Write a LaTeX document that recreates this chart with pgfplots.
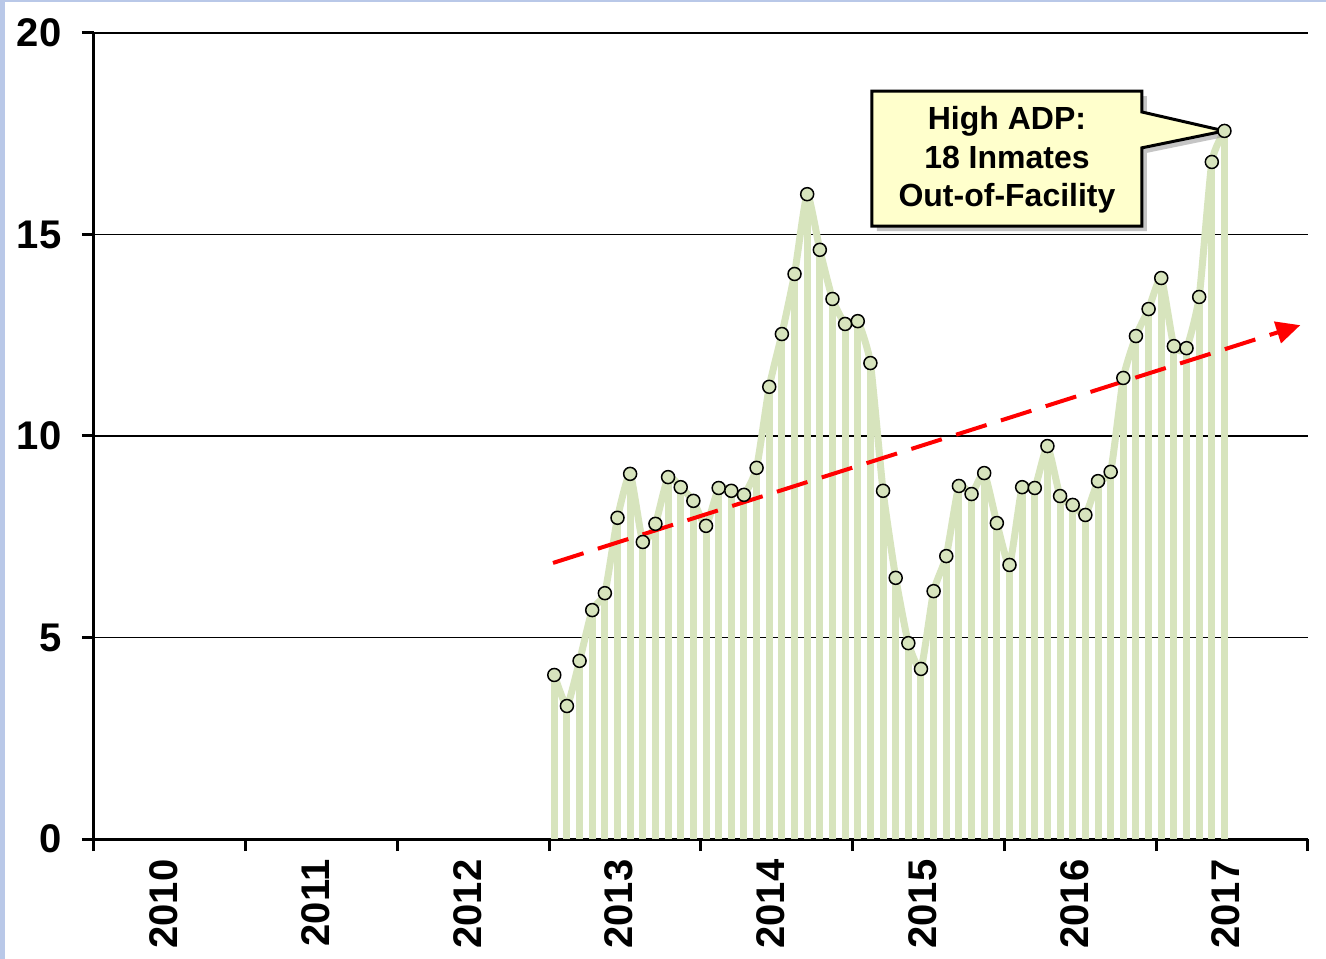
\documentclass[border=0pt]{standalone}
\usepackage{fontspec}
\setmainfont{Liberation Sans}
\usepackage{pgfplots}
\usepackage{pgfplotstable}
\pgfplotsset{compat=1.18}
\usetikzlibrary{arrows.meta,shadows}
\definecolor{barg}{RGB}{215,228,189}
\definecolor{callout}{RGB}{255,255,204}
\definecolor{strip}{RGB}{185,200,232}
\pgfplotstableread{
x y
36.4 4.07
37.4 3.30
38.4 4.42
39.4 5.68
40.4 6.10
41.4 7.97
42.4 9.06
43.4 7.37
44.4 7.82
45.4 8.98
46.4 8.73
47.4 8.39
48.4 7.77
49.4 8.71
50.4 8.64
51.4 8.54
52.4 9.21
53.4 11.22
54.4 12.53
55.4 14.02
56.4 16.00
57.4 14.62
58.4 13.40
59.4 12.78
60.4 12.85
61.4 11.81
62.4 8.64
63.4 6.48
64.4 4.86
65.4 4.22
66.4 6.15
67.4 7.02
68.4 8.76
69.4 8.56
70.4 9.08
71.4 7.84
72.4 6.80
73.4 8.73
74.4 8.71
75.4 9.75
76.4 8.51
77.4 8.29
78.4 8.04
79.4 8.88
80.4 9.11
81.4 11.44
82.4 12.48
83.4 13.15
84.4 13.92
85.4 12.23
86.4 12.18
87.4 13.45
88.4 16.80
89.4 17.57
}\adp
\begin{document}
\begin{tikzpicture}
\path[use as bounding box] (-94pt,-120pt) rectangle (1232pt,839pt);
\fill[strip] (-94pt,-120pt) rectangle (1232pt,839pt);
\fill[white] (-89pt,-120pt) rectangle (1232pt,837pt);
\begin{axis}[
  at={(0pt,0pt)}, anchor=south west,
  scale only axis, width=1214pt, height=806pt,
  xmin=0, xmax=96, ymin=0, ymax=20,
  axis x line=bottom, axis y line=left,
  axis line style={line width=3pt,-},
  xtick={0,12,...,96}, xticklabels={},
  ytick={0,5,10,15,20},
  tick align=outside,
  major tick length=12pt,
  tick style={line width=3pt,black},
  ymajorgrids, grid style={line width=1.5pt,black},
  extra x ticks={6,18,...,90},
  extra x tick labels={2010,2011,2012,2013,2014,2015,2016,2017},
  extra x tick style={major tick length=0pt, grid=none},
  x tick label style={yshift=-17pt, xshift=-6pt, rotate=90, anchor=east, font=\fontsize{40}{42}\selectfont\bfseries},
  y tick label style={font=\fontsize{40}{42}\selectfont\bfseries, xshift=-17pt},
  /pgf/number format/assume math mode=true,
  clip=false,
]
\addplot[barg, line width=7pt, ycomb, no markers] table[x=x,y=y] {\adp};
\addplot[barg, line width=7pt, smooth, tension=0.3, no markers] table[x=x,y=y] {\adp};
\addplot[only marks, mark=*, mark size=6.5pt, mark options={draw=black, fill=barg, line width=1.5pt}] table[x=x,y=y] {\adp};
\draw[red, line width=4pt, dash pattern=on 32pt off 15pt, -{Triangle[length=24pt,width=22pt]}] (axis cs:36.3,6.85) -- (axis cs:95.4,12.75);
\draw[line width=3pt, fill=callout, line join=miter, drop shadow={shadow xshift=5pt, shadow yshift=-5pt, fill=black!45}]
  (axis cs:61.52,15.21) -- (axis cs:82.87,15.21) -- (axis cs:82.87,17.15) -- (axis cs:89.4,17.57) -- (axis cs:82.87,18.04) -- (axis cs:82.87,18.56) -- (axis cs:61.52,18.56) -- cycle;
\node[align=center, font=\fontsize{32}{38.5}\selectfont\bfseries] at (axis cs:72.2,16.85) {High ADP:\\18 Inmates\\Out-of-Facility};
\end{axis}
\end{tikzpicture}
\end{document}
